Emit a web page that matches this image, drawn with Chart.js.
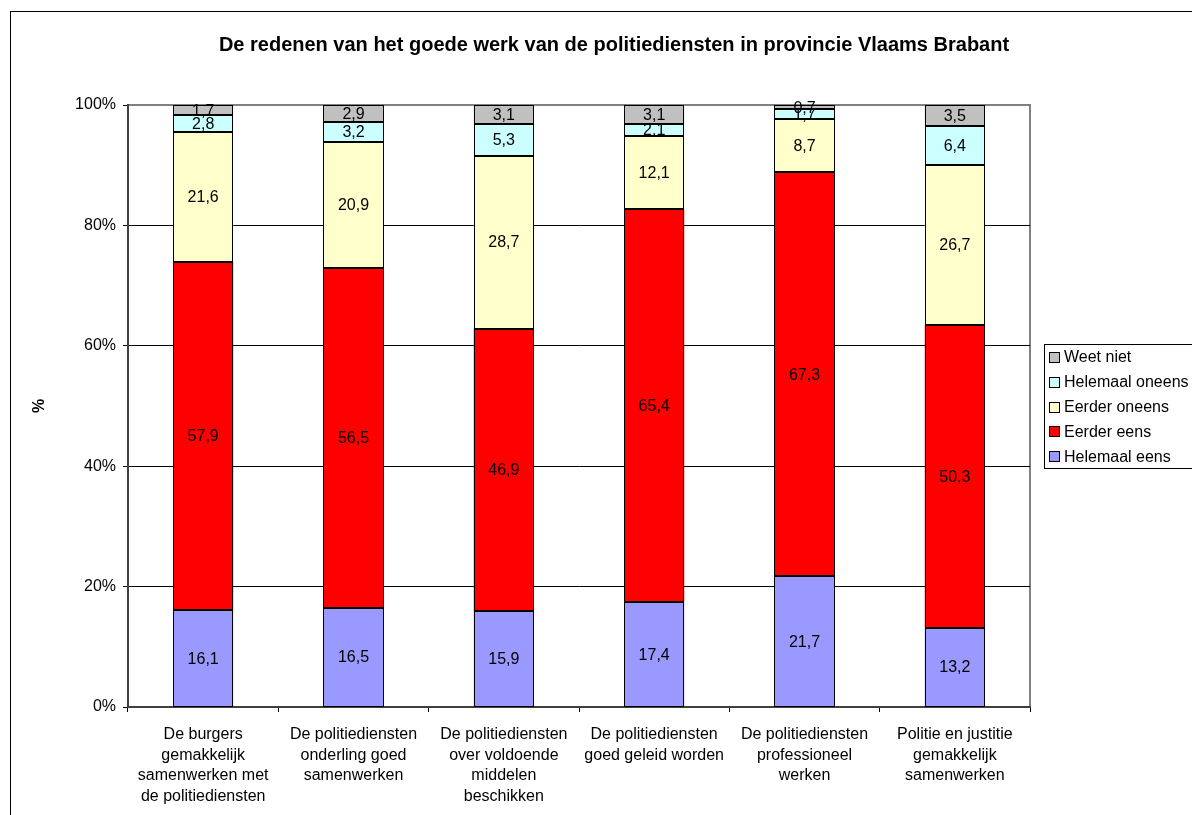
<!DOCTYPE html>
<html>
<head>
<meta charset="utf-8">
<title>De redenen van het goede werk van de politiediensten</title>
<script src="https://cdn.jsdelivr.net/npm/chart.js@4.4.0/dist/chart.umd.min.js"></script>
<style>
    html, body { margin: 0; padding: 0; background: #fff; }
    #wrap { position: relative; width: 1192px; height: 815px; }
</style>
</head>
<body>
<div id="wrap"><canvas id="chart" width="1192" height="815"></canvas></div>
<script>
// gegevens (waarden in %)
const categories = [
    ['De burgers', 'gemakkelijk', 'samenwerken met', 'de politiediensten'],
    ['De politiediensten', 'onderling goed', 'samenwerken'],
    ['De politiediensten', 'over voldoende', 'middelen', 'beschikken'],
    ['De politiediensten', 'goed geleid worden'],
    ['De politiediensten', 'professioneel', 'werken'],
    ['Politie en justitie', 'gemakkelijk', 'samenwerken']
];
const helemaalEens   = [16.1, 16.5, 15.9, 17.4, 21.7, 13.2];
const eerderEens     = [57.9, 56.5, 46.9, 65.4, 67.3, 50.3];
const eerderOneens   = [21.6, 20.9, 28.7, 12.1, 8.7, 26.7];
const helemaalOneens = [2.8, 3.2, 5.3, 2.1, 1.7, 6.4];
const weetNiet       = [1.7, 2.9, 3.1, 3.1, 0.7, 3.5];
const yTicks = [0, 20, 40, 60, 80, 100];

const FONT = "'Liberation Sans', Arial, sans-serif";

const series = [
    { label: 'Helemaal eens',   values: helemaalEens,   color: '#9999FF' },
    { label: 'Eerder eens',     values: eerderEens,     color: '#FF0000' },
    { label: 'Eerder oneens',   values: eerderOneens,   color: '#FFFFCC' },
    { label: 'Helemaal oneens', values: helemaalOneens, color: '#CCFFFF' },
    { label: 'Weet niet',       values: weetNiet,       color: '#C0C0C0' }
];

// 100% gestapeld: elke kolom herschalen naar totaal 100
const totals = categories.map((c, i) => series.reduce((s, d) => s + d.values[i], 0));

const datasets = series.map(s => ({
    label: s.label,
    data: s.values.map((v, i) => v / totals[i] * 100),
    raw: s.values,
    backgroundColor: s.color,
    borderWidth: 0,
    categoryPercentage: 1.0,
    barPercentage: 0.4
}));

function fmt(v) {
    return v.toFixed(1).replace('.', ',');
}

// kader, titel, as-titel en legende
const decoPlugin = {
    id: 'deco',
    beforeDraw(chart) {
        const ctx = chart.ctx;
        const a = chart.chartArea;
        ctx.save();
        ctx.fillStyle = '#fff';
        ctx.fillRect(0, 0, chart.width, chart.height);
        // buitenkader
        ctx.strokeStyle = '#000';
        ctx.lineWidth = 1;
        ctx.strokeRect(10.5, 11.5, 1220, 900);
        // kader van het tekengebied
        ctx.strokeStyle = '#808080';
        ctx.lineWidth = 2;
        ctx.strokeRect(a.left, a.top, a.right - a.left, a.bottom - a.top);
        ctx.restore();
    },
    afterDraw(chart) {
        const ctx = chart.ctx;
        ctx.save();
        ctx.fillStyle = '#000';
        ctx.font = 'bold 20px ' + FONT;
        ctx.textAlign = 'center';
        ctx.textBaseline = 'middle';
        ctx.fillText('De redenen van het goede werk van de politiediensten in provincie Vlaams Brabant', 614, 45);

        ctx.translate(40, 406);
        ctx.rotate(-Math.PI / 2);
        ctx.font = 'bold 16px ' + FONT;
        ctx.fillText('%', 0, 0);
        ctx.restore();

        // legende (omgekeerde volgorde)
        ctx.save();
        const lx = 1044, ly = 344;
        ctx.fillStyle = '#fff';
        ctx.fillRect(lx, ly, 200, 124);
        ctx.strokeStyle = '#000';
        ctx.lineWidth = 1;
        ctx.strokeRect(lx + 0.5, ly + 0.5, 200, 124);
        ctx.font = '16px ' + FONT;
        ctx.textAlign = 'left';
        ctx.textBaseline = 'middle';
        series.slice().reverse().forEach((s, i) => {
            const y = 357 + i * 24.8;
            ctx.fillStyle = s.color;
            ctx.fillRect(1049.5, Math.round(y) - 4.5, 10, 10);
            ctx.strokeStyle = '#000';
            ctx.strokeRect(1049.5, Math.round(y) - 4.5, 10, 10);
            ctx.fillStyle = '#000';
            ctx.fillText(s.label, 1064, y + 1);
        });
        ctx.restore();
    }
};

// scherpe zwarte randen om elk segment + waarden in het midden
const labelPlugin = {
    id: 'segmentLabels',
    afterDatasetsDraw(chart) {
        const ctx = chart.ctx;
        ctx.save();
        ctx.strokeStyle = '#000';
        ctx.lineWidth = 1;
        chart.data.datasets.forEach((ds, di) => {
            chart.getDatasetMeta(di).data.forEach(el => {
                const l = Math.round(el.x - el.width / 2) + 0.5;
                const r = Math.round(el.x + el.width / 2) - 0.5;
                const t = Math.round(Math.min(el.y, el.base)) + 0.5;
                const b = Math.round(Math.max(el.y, el.base)) - 0.5;
                ctx.strokeRect(l, t, r - l, b - t);
            });
        });
        ctx.font = '16px ' + FONT;
        ctx.fillStyle = '#000';
        ctx.textAlign = 'center';
        ctx.textBaseline = 'middle';
        chart.data.datasets.forEach((ds, di) => {
            chart.getDatasetMeta(di).data.forEach((el, i) => {
                const y = (el.y + el.base) / 2;
                ctx.fillText(fmt(ds.raw[i]), el.x, y + 1);
            });
        });
        ctx.restore();
    }
};

document.addEventListener('DOMContentLoaded', function () {
    new Chart(document.getElementById('chart'), {
        type: 'bar',
        data: { labels: categories, datasets: datasets },
        plugins: [decoPlugin, labelPlugin],
        options: {
            responsive: false,
            animation: false,
            layout: { padding: { left: 0, top: 105, right: 162, bottom: 0 } },
            plugins: {
                legend: { display: false },
                title: { display: false },
                tooltip: { enabled: false }
            },
            scales: {
                x: {
                    stacked: true,
                    grid: {
                        drawOnChartArea: false,
                        drawTicks: true,
                        tickLength: 5,
                        color: '#000',
                        offset: true
                    },
                    border: { color: '#404040', width: 2 },
                    ticks: {
                        color: '#000',
                        font: { family: FONT, size: 16, lineHeight: 1.3 },
                        padding: 12,
                        maxRotation: 0,
                        autoSkip: false
                    },
                    afterFit(axis) { axis.height = 108; }
                },
                y: {
                    stacked: true,
                    min: 0,
                    max: 100,
                    afterBuildTicks(axis) {
                        axis.ticks = yTicks.map(v => ({ value: v }));
                    },
                    grid: {
                        color: ctx => (ctx.tick && ctx.tick.value === 100) ? 'rgba(0,0,0,0)' : '#000',
                        tickColor: '#000',
                        tickLength: 5,
                        lineWidth: 1
                    },
                    border: { color: '#404040', width: 2 },
                    ticks: {
                        color: '#000',
                        font: { family: FONT, size: 16 },
                        padding: 7,
                        callback: v => v + '%'
                    },
                    afterFit(axis) { axis.width = 128; }
                }
            }
        }
    });
});
</script>
</body>
</html>
